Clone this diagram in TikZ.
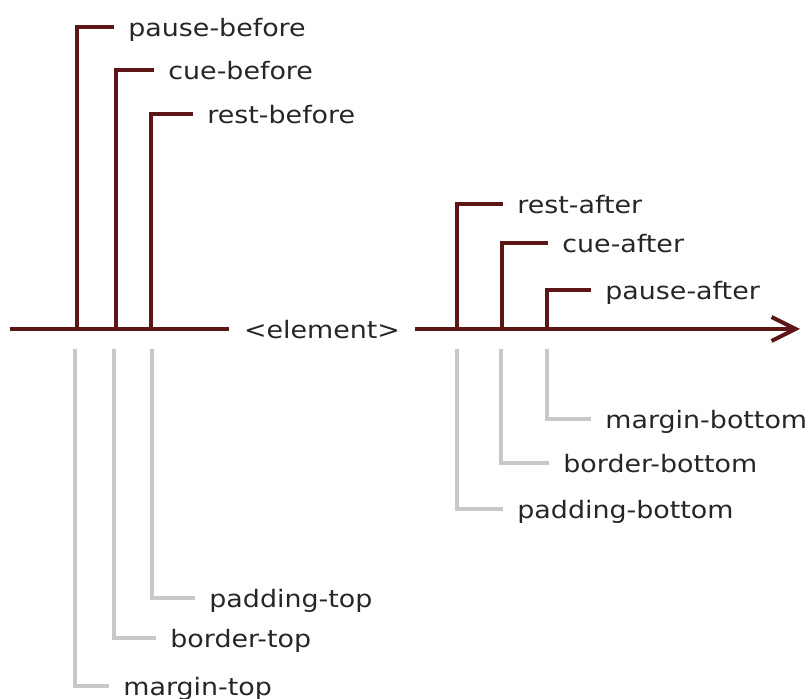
\documentclass[tikz,border=0pt]{standalone}
\usepackage{fontspec}
\setmainfont{DejaVu Sans}[FakeStretch=1.12]
\usetikzlibrary{arrows.meta}
\definecolor{aural}{RGB}{92,22,22}
\definecolor{boxgrey}{RGB}{200,200,200}
\begin{document}
\begin{tikzpicture}[x=0.5pt, y=-0.5pt, font=\fontsize{12}{14}\selectfont, label node/.style={anchor=west, inner sep=0pt, text height=0.95em, text depth=0pt, text=black!85}, aural line/.style={draw=aural, line width=2pt}, box line/.style={draw=boxgrey, line width=1.6pt}]
    \useasboundingbox (0,0) rectangle (809,699);
    \coordinate (start) at (10,329);
    \coordinate (end) at (800,329);
    \node[inner xsep=7.5pt, inner ysep=0pt, text height=0.95em, text depth=0pt, text=black!85](elem) at (322,329){<element>};
    % points on the time line
    \coordinate (pb) at (77,329);
    \coordinate (cb) at (116,329);
    \coordinate (rb) at (151,329);
    \coordinate (ra) at (457,329);
    \coordinate (ca) at (502,329);
    \coordinate (pa) at (547,329);
    \coordinate (mt) at (75,329);
    \coordinate (bt) at (114,329);
    \coordinate (pt) at (152,329);
    \coordinate (pbot) at (457,329);
    \coordinate (bb) at (501,329);
    \coordinate (mb) at (547,329);
    % labels
    \node[label node](pauseBefore) at (128,27){pause-before};
    \node[label node](cueBefore) at (168,70){cue-before};
    \node[label node](restBefore) at (207,114){rest-before};
    \node[label node](restAfter) at (517,204){rest-after};
    \node[label node](cueAfter) at (562,243){cue-after};
    \node[label node](pauseAfter) at (605,290){pause-after};
    \node[label node](marginTop) at (123,686){margin-top};
    \node[label node](borderTop) at (170,638){border-top};
    \node[label node](paddingTop) at (209,598){padding-top};
    \node[label node](paddingBottom) at (517,509){padding-bottom};
    \node[label node](borderBottom) at (563,463){border-bottom};
    \node[label node](marginBottom) at (605,419){margin-bottom};

\draw[aural line] (start) -- (elem);
\draw[aural line, -{Straight Barb[length=12pt, width=12pt]}] (elem) -- (end);
\foreach \s/\t in {pb/pauseBefore, cb/cueBefore, rb/restBefore, ra/restAfter, ca/cueAfter, pa/pauseAfter}{
    \draw[aural line, shorten >=7pt] (\s) |- (\t.west);}
\foreach \s/\t in {mt/marginTop, bt/borderTop, pt/paddingTop, pbot/paddingBottom, bb/borderBottom, mb/marginBottom}{
    \draw[box line, shorten <=10pt, shorten >=7pt] (\s) |- (\t.west);}
\end{tikzpicture}
\end{document}
